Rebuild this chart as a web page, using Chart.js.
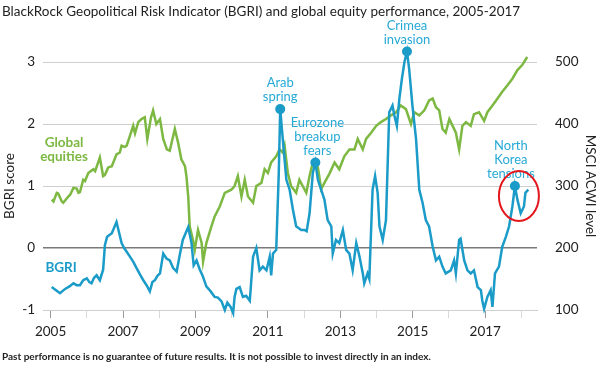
<!DOCTYPE html>
<html>
<head>
<meta charset="utf-8">
<script src="https://cdn.jsdelivr.net/npm/chart.js@4.4.0/dist/chart.umd.min.js"></script>
<style>
  html, body { margin: 0; padding: 0; background: #fff; }
  #wrap { width: 600px; height: 377px; }
</style>
</head>
<body>
<div id="wrap"><canvas id="bgriChart" width="600" height="377"></canvas></div>
<script>
// BGRI score (left axis), dates as decimal years
const bgriDates = [
  2005.03, 2005.15, 2005.26, 2005.4, 2005.52, 2005.63, 2005.72, 2005.81, 2005.9,
  2006.0, 2006.07, 2006.13, 2006.2, 2006.27, 2006.36, 2006.45, 2006.5, 2006.56, 2006.69, 2006.82, 2006.96,
  2007.03, 2007.1, 2007.19, 2007.28, 2007.37, 2007.47, 2007.56, 2007.65, 2007.74, 2007.81, 2007.88, 2007.95,
  2008.02, 2008.11, 2008.2, 2008.29, 2008.38, 2008.48, 2008.57, 2008.65, 2008.8, 2008.89, 2008.95,
  2009.03, 2009.12, 2009.2, 2009.3, 2009.42, 2009.53, 2009.62, 2009.72, 2009.81, 2009.88, 2009.97,
  2010.04, 2010.08, 2010.13, 2010.22, 2010.31, 2010.4, 2010.5, 2010.59, 2010.68, 2010.77, 2010.86, 2010.96,
  2011.05, 2011.09, 2011.14, 2011.23, 2011.3, 2011.34, 2011.41, 2011.51, 2011.6, 2011.69, 2011.78, 2011.92,
  2012.01, 2012.07, 2012.15, 2012.24, 2012.31, 2012.38, 2012.47, 2012.56, 2012.65, 2012.75, 2012.79, 2012.88, 2012.97,
  2013.07, 2013.16, 2013.25, 2013.34, 2013.44, 2013.53, 2013.62, 2013.66, 2013.75, 2013.8, 2013.89, 2013.96,
  2014.03, 2014.08, 2014.17, 2014.26, 2014.35, 2014.44, 2014.49, 2014.56, 2014.63, 2014.7, 2014.77, 2014.84, 2014.9, 2014.99,
  2015.09, 2015.18, 2015.27, 2015.36, 2015.45, 2015.55, 2015.64, 2015.73, 2015.82, 2015.91,
  2016.05, 2016.14, 2016.19, 2016.28, 2016.32, 2016.42, 2016.51, 2016.6, 2016.69, 2016.79, 2016.88, 2016.92, 2016.97,
  2017.06, 2017.15, 2017.2, 2017.27, 2017.38, 2017.47, 2017.57, 2017.66, 2017.75, 2017.82, 2017.89, 2017.98,
  2018.07, 2018.11, 2018.19
];
const bgriValues = [
  -0.63, -0.68, -0.73, -0.66, -0.62, -0.57, -0.6, -0.6, -0.52,
  -0.49, -0.55, -0.57, -0.48, -0.44, -0.52, -0.35, 0.05, 0.18, 0.24, 0.42, 0.08,
  0.0, -0.06, -0.14, -0.22, -0.32, -0.43, -0.52, -0.6, -0.7, -0.55, -0.52, -0.45,
  -0.41, -0.09, -0.17, -0.2, -0.32, -0.38, -0.1, 0.13, 0.34, 0.08, -0.28,
  -0.2, -0.35, -0.45, -0.62, -0.7, -0.79, -0.8, -0.86, -1.0, -0.88, -0.95,
  -1.05, -0.79, -0.66, -0.63, -0.79, -0.77, -0.85, -0.14, 0.0, -0.36, -0.3, -0.36,
  -0.14, -0.44, -0.09, -0.03, 1.21, 2.24, 1.76, 1.1, 0.94, 0.62, 0.35, 0.29,
  0.29, 0.27, 0.56, 1.21, 1.38, 1.1, 0.94, 0.78, 0.45, 0.35, -0.09, 0.13, 0.08,
  0.29, -0.03, -0.09, -0.36, 0.08, -0.14, -0.41, -0.57, -0.41, -0.5, 0.94, 1.16,
  0.89, 0.35, 0.13, 0.45, 2.19, 2.3, 2.14, 1.97, 2.41, 2.73, 3.0, 3.17, 2.89, 2.3,
  1.76, 0.94, 0.73, 0.45, 0.35, 0.02, -0.2, -0.14, -0.3, -0.41,
  -0.36, -0.2, -0.41, 0.13, 0.15, -0.2, -0.36, -0.41, -0.36, -0.63, -0.68, -0.85, -0.98,
  -0.79, -0.68, -0.95, -0.41, -0.3, 0.02, 0.18, 0.35, 0.67, 1.0, 0.78, 0.56,
  0.67, 0.89, 0.94
];

// MSCI ACWI level (right axis)
const equityDates = [
  2005.03, 2005.08, 2005.17, 2005.21, 2005.31, 2005.35, 2005.49, 2005.54, 2005.63, 2005.72, 2005.77, 2005.81, 2005.9, 2005.95,
  2006.04, 2006.18, 2006.23, 2006.36, 2006.45, 2006.5, 2006.59, 2006.69, 2006.82, 2006.91, 2006.96,
  2007.05, 2007.1, 2007.19, 2007.28, 2007.33, 2007.42, 2007.51, 2007.6, 2007.67, 2007.77, 2007.83, 2007.92,
  2008.02, 2008.11, 2008.21, 2008.29, 2008.43, 2008.52, 2008.61, 2008.71, 2008.75, 2008.8, 2008.84, 2008.93, 2008.98,
  2009.07, 2009.17, 2009.21, 2009.3, 2009.44, 2009.53, 2009.67, 2009.81, 2009.99,
  2010.08, 2010.17, 2010.27, 2010.36, 2010.45, 2010.59, 2010.68, 2010.82, 2010.91,
  2011.0, 2011.09, 2011.23, 2011.32, 2011.41, 2011.46, 2011.55, 2011.64, 2011.78, 2011.87, 2011.96,
  2012.06, 2012.15, 2012.24, 2012.31, 2012.38, 2012.47, 2012.56, 2012.7, 2012.84, 2012.97,
  2013.11, 2013.25, 2013.39, 2013.48, 2013.62, 2013.71, 2013.85, 2013.99,
  2014.12, 2014.26, 2014.4, 2014.54, 2014.67, 2014.81, 2014.95,
  2015.04, 2015.18, 2015.32, 2015.45, 2015.55, 2015.64, 2015.73, 2015.82, 2015.91,
  2016.01, 2016.1, 2016.19, 2016.28, 2016.37, 2016.47, 2016.6, 2016.69, 2016.83, 2016.97,
  2017.06, 2017.2, 2017.34, 2017.47, 2017.61, 2017.75, 2017.89, 2018.02, 2018.16
];
const equityValues = [
  278, 275, 289, 288, 275, 273, 283, 286, 297, 296, 289, 290, 310, 308,
  321, 327, 324, 346, 316, 318, 330, 332, 351, 354, 365,
  363, 365, 381, 397, 385, 403, 408, 411, 376, 410, 422, 400,
  408, 376, 359, 357, 392, 370, 343, 332, 316, 283, 235, 213, 197,
  229, 208, 178, 208, 235, 251, 267, 289, 294,
  300, 316, 283, 310, 283, 273, 300, 305, 327,
  321, 338, 348, 359, 354, 365, 321, 300, 289, 310, 300,
  289, 316, 338, 335, 330, 295, 305, 320, 338, 327,
  348, 359, 359, 376, 359, 376, 386, 397,
  403, 408, 414, 419, 430, 424, 400,
  419, 414, 422, 438, 441, 427, 422, 392, 386,
  408, 397, 386, 359, 397, 403, 397, 416, 419, 405,
  419, 430, 441, 452, 462, 473, 487, 495, 508
];

const peakDates = [2011.34, 2012.31, 2014.84, 2017.82];
const peakLabels = [['Arab', 'spring'], ['Eurozone', 'breakup', 'fears'], ['Crimea', 'invasion'], ['North', 'Korea', 'tensions']];
const labeledYears = [2005, 2007, 2009, 2011, 2013, 2015, 2017];

const BLUE = '#1b9bc8';
const BLUE_TEXT = '#27a9d6';
const GREEN = '#7cb842';
const FONT = 'Lato, "Open Sans", sans-serif';

// titles, callouts, peak dots and series labels drawn on top of the chart
const notesPlugin = {
  id: 'notes',
  afterDraw(chart) {
    const { ctx, scales } = chart;
    const x = scales.x, y = scales.y, y1 = scales.y1;
    ctx.save();

    ctx.fillStyle = '#222';
    ctx.textBaseline = 'middle';
    ctx.textAlign = 'left';
    ctx.font = '13.5px ' + FONT;
    ctx.fillText('BlackRock Geopolitical Risk Indicator (BGRI) and global equity performance, 2005-2017', 2, 12);
    ctx.font = 'bold 10px ' + FONT;
    ctx.fillText('Past performance is no guarantee of future results. It is not possible to invest directly in an index.', 2, 357);

    // dots and callouts at the peaks
    ctx.textAlign = 'center';
    ctx.font = '13px ' + FONT;
    peakDates.forEach((d, k) => {
      const i = bgriDates.indexOf(d);
      const px = x.getPixelForValue(d);
      const py = y.getPixelForValue(bgriValues[i]);
      ctx.fillStyle = BLUE;
      ctx.beginPath();
      ctx.arc(px, py, 5, 0, Math.PI * 2);
      ctx.fill();
      ctx.fillStyle = BLUE_TEXT;
      const dx = k === 3 ? -4 : (k === 1 ? 2 : 0);
      peakLabels[k].slice().reverse().forEach((t, j) => {
        ctx.fillText(t, px + dx, py - 12 - 14 * j);
      });
      if (k === 3) {
        ctx.strokeStyle = '#e3161d';
        ctx.lineWidth = 2;
        ctx.beginPath();
        ctx.ellipse(px + 4, py + 10, 20, 25, 0, 0, Math.PI * 2);
        ctx.stroke();
      }
    });

    // series labels
    ctx.font = 'bold 13.5px ' + FONT;
    ctx.fillStyle = GREEN;
    const gx = x.getPixelForValue(2005.37), gy = y1.getPixelForValue(358);
    ctx.fillText('Global', gx, gy - 7);
    ctx.fillText('equities', gx, gy + 7);
    ctx.fillStyle = BLUE;
    ctx.fillText('BGRI', x.getPixelForValue(2005.29), y.getPixelForValue(-0.31));

    ctx.restore();
  }
};

document.addEventListener('DOMContentLoaded', function () {
  const ctx = document.getElementById('bgriChart').getContext('2d');
  new Chart(ctx, {
    type: 'line',
    data: {
      datasets: [
        {
          label: 'BGRI',
          data: bgriDates.map((d, i) => ({ x: d, y: bgriValues[i] })),
          yAxisID: 'y',
          borderColor: BLUE,
          borderWidth: 2.5,
          pointRadius: 0,
          tension: 0,
          clip: false
        },
        {
          label: 'Global equities',
          data: equityDates.map((d, i) => ({ x: d, y: equityValues[i] })),
          yAxisID: 'y1',
          borderColor: GREEN,
          borderWidth: 2.5,
          pointRadius: 0,
          tension: 0,
          clip: false
        }
      ]
    },
    options: {
      responsive: false,
      animation: false,
      events: [],
      layout: { padding: { top: 62, bottom: 27, left: 0, right: 0 } },
      plugins: { legend: { display: false }, title: { display: false }, tooltip: { enabled: false } },
      scales: {
        x: {
          type: 'linear',
          min: 2004.79,
          max: 2018.43,
          afterFit: s => { s.height = 40; },
          border: { display: true, color: '#cfcfcf' },
          grid: {
            drawOnChartArea: false,
            drawTicks: true,
            tickLength: 8,
            color: c => labeledYears.includes(c.tick && c.tick.value) ? '#9a9a9a' : '#d8d8d8'
          },
          ticks: {
            stepSize: 1,
            includeBounds: false,
            autoSkip: false,
            maxRotation: 0,
            padding: 6,
            color: '#222',
            font: { family: FONT, size: 13.5 },
            callback: v => labeledYears.includes(v) ? String(v) : ''
          }
        },
        y: {
          position: 'left',
          min: -1,
          max: 3,
          afterFit: s => { s.width = 43; },
          border: { display: false },
          grid: {
            drawTicks: false,
            color: c => c.tick.value === 0 ? '#7a7a7a' : '#cfcfcf',
            lineWidth: c => c.tick.value === 0 ? 1.5 : 1
          },
          ticks: { stepSize: 1, padding: 8, color: '#222', font: { family: FONT, size: 13.5 } },
          title: { display: true, text: 'BGRI score', color: '#222', padding: { top: 2, bottom: 0 }, font: { family: FONT, size: 13.5 } }
        },
        y1: {
          position: 'right',
          min: 100,
          max: 500,
          afterFit: s => { s.width = 63; },
          border: { display: false },
          grid: { display: false },
          ticks: { stepSize: 100, padding: 10, color: '#222', font: { family: FONT, size: 13.5 } },
          title: { display: true, text: 'MSCI ACWI level', color: '#222', padding: { top: 2, bottom: 0 }, font: { family: FONT, size: 13.5 } }
        }
      }
    },
    plugins: [notesPlugin]
  });
});
</script>
</body>
</html>
